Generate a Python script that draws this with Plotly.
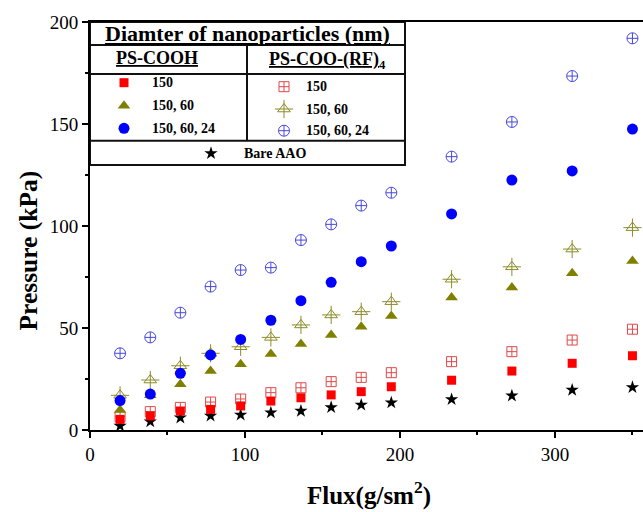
import plotly.graph_objects as go

# ---------------- data ----------------
flux = [19.4, 38.9, 58.3, 77.8, 97.2, 116.7, 136.1, 155.6, 175.0, 194.4, 233.3, 272.2, 311.1, 350.0]
cooh_150 = [5.2, 6.9, 9.3, 10.1, 11.8, 14.2, 15.8, 17.2, 18.8, 21.2, 24.4, 28.9, 32.7, 36.4]
cooh_150_60 = [9.8, 17.0, 22.4, 28.9, 32.2, 37.3, 42.2, 46.6, 50.6, 55.9, 65.0, 69.8, 76.8, 82.8]
cooh_150_60_24 = [14.4, 17.6, 27.8, 36.8, 44.4, 53.8, 63.4, 72.4, 82.5, 90.2, 105.9, 122.5, 127.0, 147.5]
rf_150 = [6.5, 9.0, 11.1, 13.7, 15.2, 18.3, 20.7, 23.7, 25.8, 28.1, 33.5, 38.4, 44.1, 49.4]
rf_150_60 = [17.0, 24.5, 31.5, 37.6, 40.8, 45.4, 51.5, 56.4, 58.0, 62.9, 73.9, 80.0, 88.7, 99.2]
rf_150_60_24 = [37.6, 45.4, 57.5, 70.3, 78.4, 79.6, 93.1, 100.8, 110.0, 116.3, 134.0, 151.0, 173.5, 192.0]
bare_aao = [2.0, 4.1, 6.0, 6.9, 7.4, 8.5, 9.3, 11.1, 12.3, 13.4, 15.0, 16.8, 19.6, 20.9]

x_ticks = [0, 100, 200, 300]
y_ticks = [0, 50, 100, 150, 200]

labels = ["150", "150, 60", "150, 60, 24"]

# ---------------- styles ----------------
FONT = "Liberation Serif"
RED, OLIVE, BLUE = "#FF0000", "#808000", "#0000FF"
RED_O, OLIVE_O, BLUE_O = "#E04848", "#8C8C2A", "#4848E0"

fig = go.Figure()

def add(x, y, symbol, color, size, width=1, xa="x", ya="y"):
    fig.add_trace(go.Scatter(
        x=x, y=y, mode="markers", xaxis=xa, yaxis=ya, showlegend=False,
        marker=dict(symbol=symbol, color=color, size=size,
                    line=dict(color=color, width=width))))

# open (RF) series
add(flux, rf_150, "square-cross-open", RED_O, 10)
add(flux, rf_150_60, "triangle-up-open", OLIVE_O, 11)
add(flux, rf_150_60, "cross-thin-open", OLIVE_O, 13)
add(flux, rf_150_60_24, "circle-cross-open", BLUE_O, 11)
# bare
add(flux, bare_aao, "star", "black", 10, 0)
# filled (COOH) series
add(flux, cooh_150, "square", RED, 9, 0)
add(flux, cooh_150_60, "triangle-up", OLIVE, 11, 0)
add(flux, cooh_150_60_24, "circle", BLUE, 11, 0)

# ---------------- legend table (pixel overlay axes) ----------------
L, R, T, B = 90, 405, 22, 165
ROW1, ROW2, ROW3 = 45, 74, 140.7
MID = 247

shapes = [
    dict(type="rect", xref="x2", yref="y2", x0=L, x1=R, y0=T, y1=B,
         line=dict(color="#111", width=2), fillcolor="white", layer="below"),
]
for yy in (ROW1, ROW2, ROW3):
    shapes.append(dict(type="line", xref="x2", yref="y2", x0=L, x1=R, y0=yy, y1=yy,
                       line=dict(color="#111", width=2)))
shapes.append(dict(type="line", xref="x2", yref="y2", x0=MID, x1=MID, y0=ROW1, y1=ROW3,
                   line=dict(color="#111", width=2)))

left_rows = [82.7, 105.7, 128.3]
right_rows = [86.7, 109.0, 130.7]

add([124], [left_rows[0]], "square", RED, 9, 0, "x2", "y2")
add([124], [left_rows[1]], "triangle-up", OLIVE, 11, 0, "x2", "y2")
add([124], [left_rows[2]], "circle", BLUE, 11, 0, "x2", "y2")
add([284], [right_rows[0]], "square-cross-open", RED_O, 10, 1, "x2", "y2")
add([284], [right_rows[1]], "triangle-up-open", OLIVE_O, 11, 1, "x2", "y2")
add([284], [right_rows[1]], "cross-thin-open", OLIVE_O, 13, 1, "x2", "y2")
add([284], [right_rows[2]], "circle-cross-open", BLUE_O, 11, 1, "x2", "y2")
add([211], [153.3], "star", "black", 10, 0, "x2", "y2")

ann = []
ann.append(dict(xref="x2", yref="y2", x=(L + R) / 2, y=33.5, showarrow=False,
                text="<b><u>Diamter of nanoparticles (nm)</u></b>",
                font=dict(family=FONT, size=22, color="black")))
ann.append(dict(xref="x2", yref="y2", x=157, y=58, showarrow=False,
                text="<b><u>PS-COOH</u></b>", font=dict(family=FONT, size=18, color="black")))
ann.append(dict(xref="x2", yref="y2", x=327, y=60, showarrow=False,
                text="<b><u>PS-COO-(RF)</u><sub>4</sub></b>", font=dict(family=FONT, size=18, color="black")))
for yy, t in zip(left_rows, labels):
    ann.append(dict(xref="x2", yref="y2", x=150, y=yy, xanchor="left", showarrow=False,
                    text="<b>%s</b>" % t, font=dict(family=FONT, size=14, color="black")))
for yy, t in zip(right_rows, labels):
    ann.append(dict(xref="x2", yref="y2", x=304, y=yy, xanchor="left", showarrow=False,
                    text="<b>%s</b>" % t, font=dict(family=FONT, size=14, color="black")))
ann.append(dict(xref="x2", yref="y2", x=242, y=153.3, xanchor="left", showarrow=False,
                text="<b>Bare AAO</b>", font=dict(family=FONT, size=14, color="black")))

# axis titles
ann.append(dict(xref="paper", yref="paper", x=-0.112, y=0.44, xanchor="center", yanchor="middle",
                showarrow=False, textangle=-90,
                text="<b>Pressure (kPa)</b>", font=dict(family=FONT, size=25.5, color="black")))
ann.append(dict(xref="paper", yref="paper", x=0.504, y=-0.2, xanchor="center", yanchor="bottom",
                showarrow=False,
                text="<b>Flux(g/sm<sup>2</sup>)</b>", font=dict(family=FONT, size=25, color="black")))

fig.update_layout(
    width=643, height=512,
    margin=dict(l=90, r=0, t=22, b=82),
    paper_bgcolor="white", plot_bgcolor="white",
    font=dict(family=FONT, size=19, color="black"),
    shapes=shapes, annotations=ann,
    xaxis=dict(range=[0, 356.8], tickvals=x_ticks, showgrid=False, zeroline=False,
               showline=True, linecolor="black", linewidth=2, mirror=True,
               ticks="outside", ticklen=6, tickwidth=1.5, tickcolor="black",
               minor=dict(dtick=50, ticks="outside", ticklen=3, tickwidth=1.5, tickcolor="black"),
               tickfont=dict(family=FONT, size=19, color="black")),
    yaxis=dict(range=[0, 200], tickvals=y_ticks, showgrid=False, zeroline=False,
               showline=True, linecolor="black", linewidth=2,
               ticks="outside", ticklen=6, tickwidth=1.5, tickcolor="black",
               minor=dict(dtick=25, ticks="outside", ticklen=3, tickwidth=1.5, tickcolor="black"),
               tickfont=dict(family=FONT, size=19, color="black")),
    xaxis2=dict(overlaying="x", range=[90, 643], visible=False, fixedrange=True),
    yaxis2=dict(overlaying="y", range=[430, 22], visible=False, fixedrange=True),
)

fig.write_html("out.html", config={"displayModeBar": False},
               post_script="document.body.style.margin='0';document.body.style.overflow='hidden';")
